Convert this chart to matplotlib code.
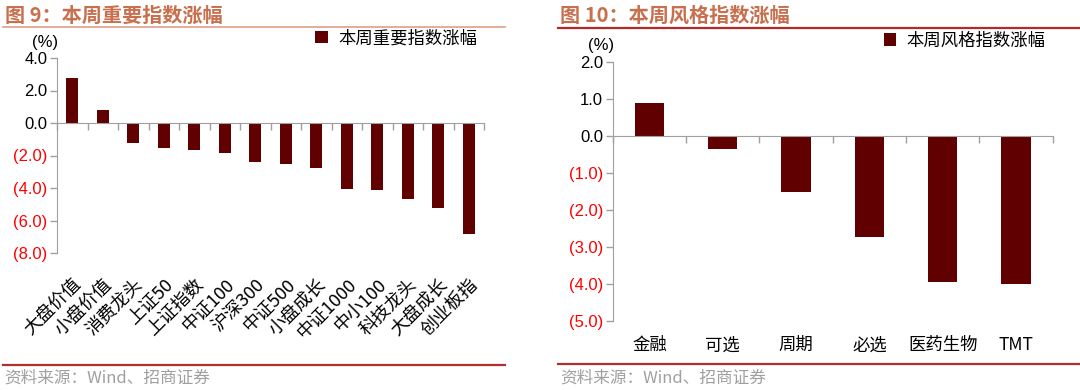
import matplotlib
matplotlib.use("Agg")
import matplotlib.pyplot as plt
from matplotlib.lines import Line2D
from matplotlib.ticker import FuncFormatter
import numpy as np

plt.rcParams['font.family'] = ['Liberation Sans', 'Noto Sans CJK SC', 'DejaVu Sans']
cjk = ['Noto Sans CJK SC', 'DejaVu Sans']

# data
idx_names = ['大盘价值', '小盘价值', '消费龙头', '上证50', '上证指数', '中证100', '沪深300',
             '中证500', '小盘成长', '中证1000', '中小100', '科技龙头', '大盘成长', '创业板指']
idx_values = [2.8, 0.8, -1.2, -1.55, -1.65, -1.85, -2.4, -2.5, -2.75, -4.07, -4.15, -4.7, -5.23, -6.8]
idx_legend = '本周重要指数涨幅'
idx_title = '图 9：本周重要指数涨幅'

style_names = ['金融', '可选', '周期', '必选', '医药生物', 'TMT']
style_values = [0.88, -0.36, -1.53, -2.73, -3.95, -4.01]
style_legend = '本周风格指数涨幅'
style_title = '图 10：本周风格指数涨幅'

source = '资料来源：Wind、招商证券'

bar_color = '#600000'
title_color = '#c8704e'
W, H = 1080, 390

fig = plt.figure(figsize=(W / 100, H / 100), dpi=100)


def fmt(v, pos):
    return f'({abs(v):.1f})' if v < -1e-9 else f'{v:.1f}'


def make_panel(rect, names, values, ylim, ystep, legend, rot):
    ax = fig.add_axes(rect)
    x = np.arange(len(names))
    ax.bar(x, values, width=0.4, color=bar_color, label=legend)
    ax.set_xlim(-0.5, len(names) - 0.5)
    ax.set_ylim(*ylim)
    ax.set_yticks(np.arange(ylim[0], ylim[1] + ystep / 2, ystep))
    ax.yaxis.set_major_formatter(FuncFormatter(fmt))
    ax.tick_params(axis='y', direction='out', length=5, width=1, color='#a0a0a0',
                   labelsize=12, pad=2)
    for lab, v in zip(ax.get_yticklabels(), ax.get_yticks()):
        lab.set_color('#ff0000' if v < -1e-9 else 'black')
    for s in ['top', 'right']:
        ax.spines[s].set_visible(False)
    ax.spines['left'].set_color('#a0a0a0')
    ax.spines['bottom'].set_color('#a0a0a0')
    ax.spines['bottom'].set_position(('data', 0))
    ax.set_xticks(np.arange(len(names) + 1) - 0.5)
    ax.set_xticklabels([])
    ax.tick_params(axis='x', direction='out', length=5, width=1, color='#a0a0a0')

    sec = ax.secondary_xaxis('bottom')
    sec.spines['bottom'].set_visible(False)
    sec.set_xticks(x)
    if rot:
        sec.set_xticklabels(names, rotation=45, ha='right', rotation_mode='anchor',
                            family=cjk, fontsize=13)
        sec.tick_params(length=0, pad=16)
    else:
        sec.set_xticklabels(names, family=cjk, fontsize=12.5)
        sec.tick_params(length=0, pad=11)

    ax.annotate('(%)', xy=(0, 1), xycoords='axes fraction', xytext=(1, 6),
                textcoords='offset points', ha='right', va='bottom', fontsize=12)
    ax.legend(loc='lower right', bbox_to_anchor=(1.0, 1.02), frameon=False,
              handlelength=0.7, handleheight=0.7, handletextpad=0.6,
              prop={'family': cjk, 'size': 12.5}, borderaxespad=0)
    return ax


make_panel([57 / W, 1 - 253 / H, 427 / W, 195 / H], idx_names, idx_values,
           (-8, 4), 2, idx_legend, True)
make_panel([612.7 / W, 1 - 321 / H, 440 / W, 259.3 / H], style_names, style_values,
           (-5, 2), 1, style_legend, False)

# titles, rules, source
fig.text(5 / W, 1 - 15 / H, idx_title, color=title_color, fontsize=14.5,
         fontweight='bold', va='center', family=cjk)
fig.text(560 / W, 1 - 15 / H, style_title, color=title_color, fontsize=14.5,
         fontweight='bold', va='center', family=cjk)
fig.add_artist(Line2D([3 / W, 505 / W], [1 - 27 / H] * 2, color='#dca088', lw=1.2))
fig.add_artist(Line2D([558 / W, 1.0], [1 - 28 / H] * 2, color='#b42a2a', lw=1.6))
fig.add_artist(Line2D([3 / W, 505 / W], [1 - 365 / H] * 2, color='#b03030', lw=1.6))
fig.add_artist(Line2D([558 / W, 1.0], [1 - 364 / H] * 2, color='#b03030', lw=1.6))
fig.text(4 / W, 1 - 378 / H, source, color='#a0a0a0', fontsize=12, va='center',
         family=cjk)
fig.text(560 / W, 1 - 378 / H, source, color='#a0a0a0', fontsize=12, va='center',
         family=cjk)

fig.savefig('out.png', dpi=100)
